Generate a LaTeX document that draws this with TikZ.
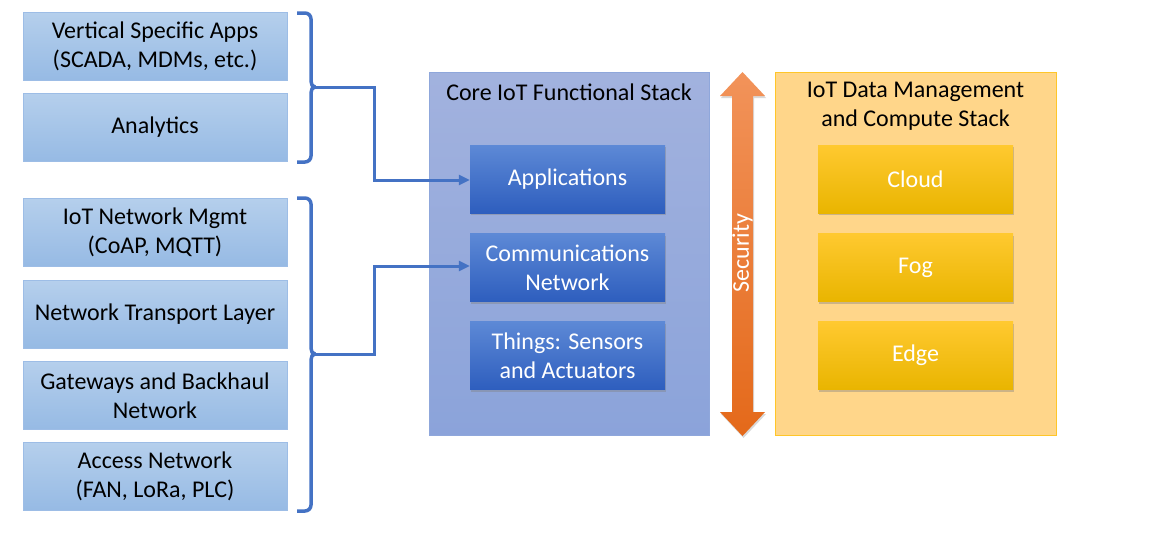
\documentclass[tikz,border=0pt]{standalone}
\usepackage{fontspec}
\setmainfont{Carlito}
\usetikzlibrary{shadows,arrows.meta}
\definecolor{lbfill1}{HTML}{B5CFEC}
\definecolor{lbfill2}{HTML}{96BAE4}
\definecolor{lbdraw}{HTML}{9DBDE6}
\definecolor{bracec}{HTML}{4472C4}
\definecolor{corefill}{HTML}{A2B2DE}
\definecolor{corefill2}{HTML}{8BA3DA}
\definecolor{coredraw}{HTML}{8FA7DB}
\definecolor{inner1}{HTML}{5D89D6}
\definecolor{inner2}{HTML}{2E5EBE}
\definecolor{datafill}{HTML}{FFD68A}
\definecolor{datadraw}{HTML}{FFC629}
\definecolor{yel1}{HTML}{FFC930}
\definecolor{yel2}{HTML}{E9B500}
\definecolor{or1}{HTML}{F2935A}
\definecolor{or2}{HTML}{E4691A}
\tikzset{
  leftbox/.style={draw=lbdraw, line width=0.8pt, top color=lbfill1, bottom color=lbfill2,
    minimum width=264pt, minimum height=68pt, align=center, font=\fontsize{24}{29}\selectfont, text=black},
  innerbox/.style={top color=inner1, bottom color=inner2, draw=none,
    drop shadow={shadow xshift=1pt, shadow yshift=-2pt, opacity=0.4},
    minimum width=195pt, minimum height=68pt, align=center, font=\fontsize{24}{29}\selectfont, text=white},
  yelbox/.style={top color=yel1, bottom color=yel2, draw=none,
    drop shadow={shadow xshift=1pt, shadow yshift=-2pt, opacity=0.4},
    minimum width=195pt, minimum height=68pt, align=center, font=\fontsize{24}{29}\selectfont, text=white},
  bracel/.style={draw=bracec, line width=3.5pt},
  conn/.style={draw=bracec, line width=3pt, -{Triangle[length=11pt,width=10pt]}},
  titletext/.style={font=\fontsize{24}{29}\selectfont, align=center, text=black},
}
\begin{document}
\begin{tikzpicture}[x=1pt,y=-1pt]
\useasboundingbox (0,0) rectangle (1174,546);
% left boxes
\node[leftbox] (b1) at (155,46.5) {Vertical Specific Apps\\(SCADA, MDMs, etc.)};
\node[leftbox] (b2) at (155,127.5) {Analytics};
\node[leftbox] (b3) at (155,232.5) {IoT Network Mgmt\\(CoAP, MQTT)};
\node[leftbox] (b4) at (155,314) {Network Transport Layer};
\node[leftbox] (b5) at (155,395.5) {Gateways and Backhaul\\Network};
\node[leftbox] (b6) at (155,476.5) {Access Network\\(FAN, LoRa, PLC)};
% core stack
\node[draw=coredraw, line width=0.8pt, top color=corefill, bottom color=corefill2, minimum width=280pt, minimum height=363pt] (core) at (569,253.5) {};
\node[titletext] (coret) at (569,92) {Core IoT Functional Stack};
\node[innerbox] (app) at (567.5,179) {Applications};
\node[innerbox] (comm) at (567.5,267.5) {Communications\\Network};
\node[innerbox] (things) at (567.5,355.5) {Things: Sensors\\and Actuators};
% data stack
\node[draw=datadraw, line width=0.8pt, fill=datafill, minimum width=281pt, minimum height=363pt] (data) at (915.5,253.5) {};
\node[titletext] (datat) at (915.5,106.5) {IoT Data Management\\and Compute Stack};
\node[yelbox] (cloud) at (915.5,179) {Cloud};
\node[yelbox] (fog) at (915.5,267.5) {Fog};
\node[yelbox] (edge) at (915.5,355.5) {Edge};
% security arrow
\shade[top color=or1, bottom color=or2, drop shadow={shadow xshift=1pt, shadow yshift=-2pt, opacity=0.3}]
  (742.5,72) -- (765,96) -- (753,96) -- (753,412) -- (765,412) -- (742.5,436) -- (720,412) -- (732,412) -- (732,96) -- (720,96) -- cycle;
\node[rotate=90, text=white, font=\fontsize{24}{29}\selectfont] (sec) at (742.5,253) {Security};
% braces
\coordinate (t1) at (311,87);
\coordinate (t2) at (311,354);
\draw[bracel] (297,13) -- (305,13) to[out=0,in=90] (311,19) -- (311,81) to[out=-90,in=180] (315,87);
\draw[bracel] (297,162) -- (305,162) to[out=0,in=-90] (311,156) -- (311,93) to[out=90,in=180] (315,87);
\draw[bracel] (297,198) -- (305,198) to[out=0,in=90] (311,204) -- (311,348) to[out=-90,in=180] (315,354);
\draw[bracel] (297,511) -- (305,511) to[out=0,in=-90] (311,505) -- (311,360) to[out=90,in=180] (315,354);
% connectors
\draw[conn] (t1) -- (374,87) -- (374,180) -- (app.west |- 0,180);
\draw[conn] (t2) -- (374,354) -- (374,266) -- (comm.west |- 0,266);
\end{tikzpicture}
\end{document}
